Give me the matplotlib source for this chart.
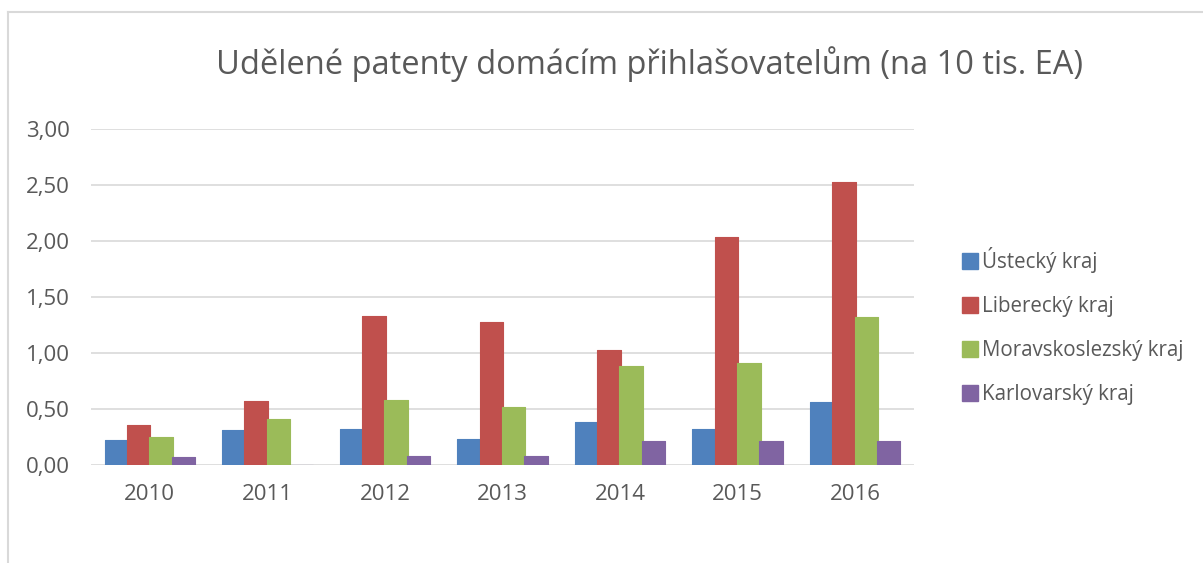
import matplotlib
matplotlib.use("Agg")
import matplotlib.pyplot as plt
import numpy as np
from matplotlib.lines import Line2D
from matplotlib.patches import Patch

years = ["2010", "2011", "2012", "2013", "2014", "2015", "2016"]
series_names = ["Ústecký kraj", "Liberecký kraj", "Moravskoslezský kraj", "Karlovarský kraj"]
ustecky = [0.22, 0.31, 0.32, 0.23, 0.38, 0.32, 0.56]
liberecky = [0.36, 0.57, 1.33, 1.28, 1.03, 2.04, 2.53]
moravskoslezsky = [0.25, 0.41, 0.58, 0.52, 0.88, 0.91, 1.32]
karlovarsky = [0.07, 0.0, 0.08, 0.08, 0.21, 0.21, 0.21]
yticks = [0.0, 0.5, 1.0, 1.5, 2.0, 2.5, 3.0]
ytick_labels = ["0,00", "0,50", "1,00", "1,50", "2,00", "2,50", "3,00"]
title = "Udělené patenty domácím přihlašovatelům (na 10 tis. EA)"

colors = ["#4F81BD", "#C0504D", "#9BBB59", "#8064A2"]
FONT = ["Open Sans", "DejaVu Sans"]
TXT = "#595959"

fig = plt.figure(figsize=(12.03, 5.63), dpi=100)
W, H = 1203, 563
ax = fig.add_axes([91 / W, 1 - 465 / H, (914 - 91) / W, (465 - 129) / H])

x = np.arange(len(years))
all_series = [ustecky, liberecky, moravskoslezsky, karlovarsky]
spacing = 0.19
width = 0.2
for i, (vals, c) in enumerate(zip(all_series, colors)):
    offs = (i - 1.5) * spacing
    ax.bar(x + offs, vals, width=width, color=c, edgecolor=c, linewidth=0.8,
           joinstyle="round", zorder=3)

ax.set_xlim(-0.5, len(years) - 0.5)
ax.set_ylim(0, 3.0)
ax.set_yticks(yticks)
ax.set_yticklabels(ytick_labels, fontfamily=FONT, fontsize=16, color=TXT)
ax.set_xticks(x)
ax.set_xticklabels(years, fontfamily=FONT, fontsize=16, color=TXT)
ax.tick_params(axis="both", length=0)
ax.tick_params(axis="y", pad=15)
ax.tick_params(axis="x", pad=14)
ax.grid(axis="y", color="#D9D9D9", linewidth=1.2, zorder=0)
for s in ax.spines.values():
    s.set_visible(False)

fig.text(650 / W, 1 - 64 / H, title, ha="center", va="center",
         fontfamily=FONT, fontsize=23.5, color=TXT)

handles = [Patch(facecolor=c, edgecolor=c) for c in colors]
leg = fig.legend(handles, series_names, loc="center left",
                 bbox_to_anchor=(943 / W, 1 - 326 / H), frameon=False,
                 prop={"family": FONT, "size": 14.8}, labelcolor=TXT,
                 handlelength=0.8, handleheight=0.8, handletextpad=0.2,
                 labelspacing=1.12)

# outer chart frame
fig.add_artist(Line2D([8 / W, 1.0], [1 - 12 / H, 1 - 12 / H], color="#D9D9D9", linewidth=1.5))
fig.add_artist(Line2D([8 / W, 8 / W], [0.0, 1 - 12 / H], color="#D9D9D9", linewidth=1.5))

fig.savefig("out.png", dpi=100, facecolor="white")
